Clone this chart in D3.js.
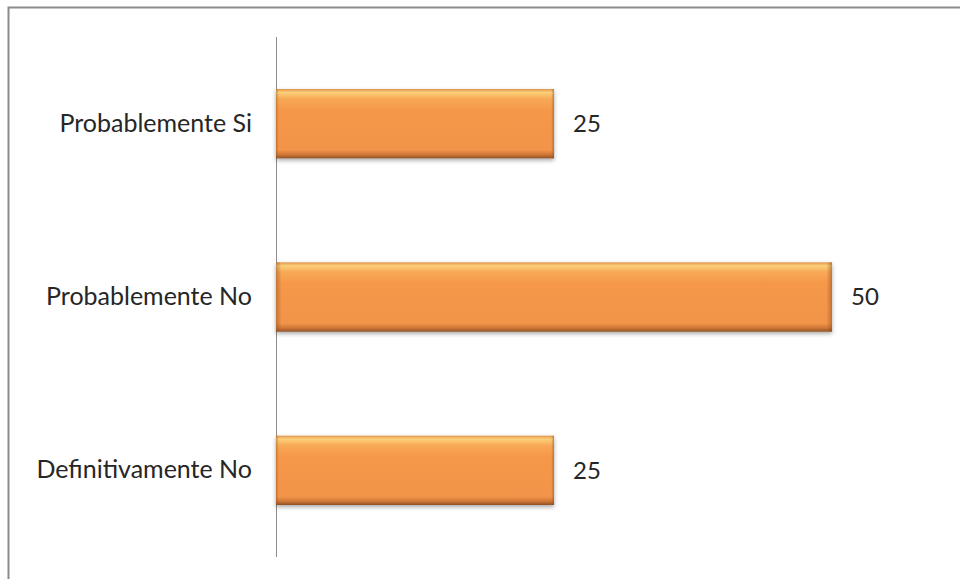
<!DOCTYPE html>
<html>
<head>
<meta charset="utf-8">
<script src="https://cdn.jsdelivr.net/npm/d3@7"></script>
<style>
  body { margin: 0; background: #fff; }
  svg text { font-family: Lato, "Open Sans", sans-serif; fill: #262626; }
</style>
</head>
<body>
<div id="chart"></div>
<script>
// data
var categories = ["Probablemente Si", "Probablemente No", "Definitivamente No"];
var values = [25, 50, 25];

var largeur = 960, hauteur = 579;
var svg = d3.select("#chart").append("svg")
    .attr("width", largeur)
    .attr("height", hauteur);

// outer frame (right and bottom run off the picture)
svg.append("path")
    .attr("d", "M8.5," + hauteur + "V7.5H" + largeur)
    .attr("fill", "none")
    .attr("stroke", "#8c8c8c")
    .attr("stroke-width", 2);

var defs = svg.append("defs");
var grad = defs.append("linearGradient")
    .attr("id", "bevel")
    .attr("x1", 0).attr("y1", 0).attr("x2", 0).attr("y2", 1);
grad.append("stop").attr("offset", "0%").attr("stop-color", "#e39550");
grad.append("stop").attr("offset", "5%").attr("stop-color", "#fbcf78");
grad.append("stop").attr("offset", "14%").attr("stop-color", "#f8a956");
grad.append("stop").attr("offset", "30%").attr("stop-color", "#f5984a");
grad.append("stop").attr("offset", "88%").attr("stop-color", "#f2944a");
grad.append("stop").attr("offset", "95%").attr("stop-color", "#cc7535");
grad.append("stop").attr("offset", "100%").attr("stop-color", "#8f5226");

var side = defs.append("linearGradient")
    .attr("id", "sides")
    .attr("x1", 0).attr("y1", 0).attr("x2", 1).attr("y2", 0);
side.append("stop").attr("offset", "0%").attr("stop-color", "#8a4a1a").attr("stop-opacity", 0.45);
side.append("stop").attr("offset", "1%").attr("stop-color", "#8a4a1a").attr("stop-opacity", 0);
side.append("stop").attr("offset", "99%").attr("stop-color", "#8a4a1a").attr("stop-opacity", 0);
side.append("stop").attr("offset", "100%").attr("stop-color", "#8a4a1a").attr("stop-opacity", 0.5);

var shadow = defs.append("filter").attr("id", "ombre")
    .attr("x", "-5%").attr("y", "-10%").attr("width", "110%").attr("height", "130%");
shadow.append("feDropShadow")
    .attr("dx", 0).attr("dy", 2).attr("stdDeviation", 2)
    .attr("flood-color", "#000").attr("flood-opacity", 0.35);

var x = d3.scaleLinear().domain([0, 50]).range([276, 832]);
var y = d3.scaleBand().domain(categories).range([37, 557]).paddingInner(0.6).paddingOuter(0.3);

// category axis
var yAxis = svg.append("g")
    .attr("transform", "translate(" + x(0) + ",0)")
    .call(d3.axisLeft(y).tickSize(0).tickPadding(24));
yAxis.select(".domain").attr("stroke", "#8c8c8c").attr("d", "M0.5,37V557");
yAxis.selectAll("text")
    .attr("font-size", 25)
    .attr("font-family", "Lato, sans-serif")
    .attr("fill", "#262626");

var bars = svg.selectAll(".barre")
    .data(categories)
    .enter().append("g")
    .attr("class", "barre");

bars.append("rect")
    .attr("x", x(0))
    .attr("y", function(d) { return y(d); })
    .attr("width", function(d, i) { return x(values[i]) - x(0); })
    .attr("height", y.bandwidth())
    .attr("fill", "url(#bevel)")
    .attr("filter", "url(#ombre)");

bars.append("rect")
    .attr("x", x(0))
    .attr("y", function(d) { return y(d); })
    .attr("width", function(d, i) { return x(values[i]) - x(0); })
    .attr("height", y.bandwidth())
    .attr("fill", "url(#sides)");

// value labels
svg.selectAll(".valeur")
    .data(categories)
    .enter().append("text")
    .attr("class", "valeur")
    .attr("x", function(d, i) { return x(values[i]) + 19; })
    .attr("y", function(d) { return y(d) + y.bandwidth() / 2; })
    .attr("dy", "0.35em")
    .attr("font-size", 24)
    .text(function(d, i) { return values[i]; });
</script>
</body>
</html>
